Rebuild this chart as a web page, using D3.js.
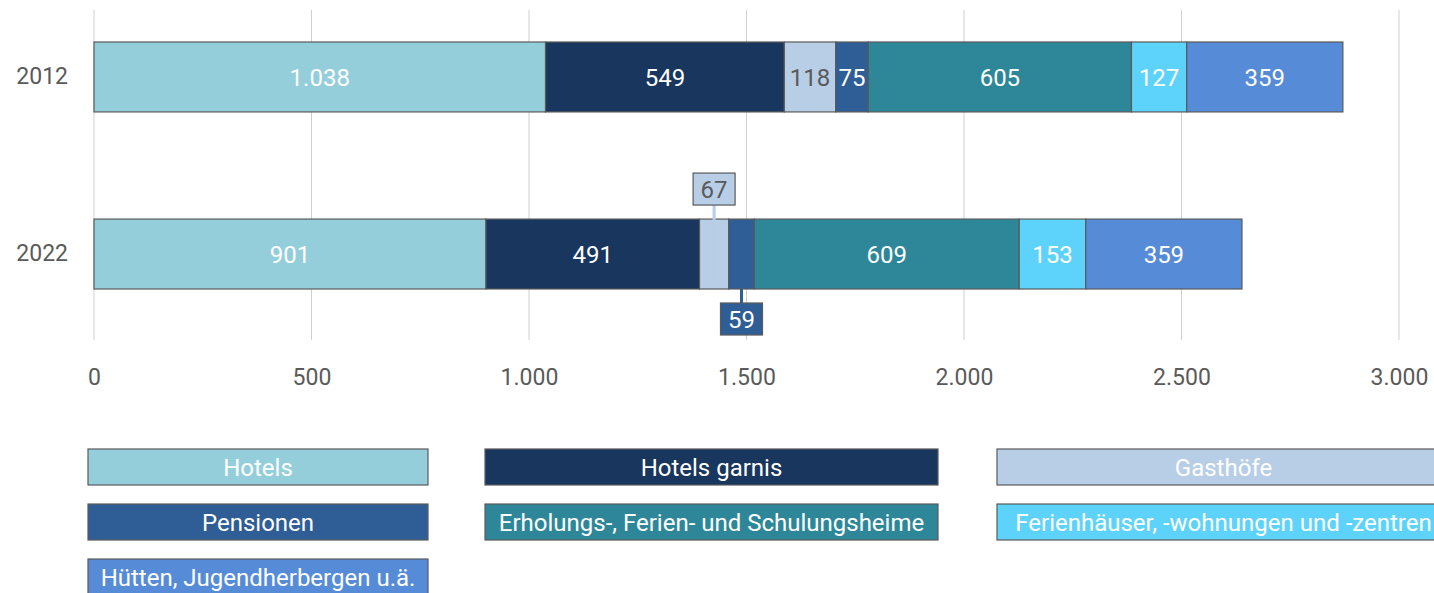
<!DOCTYPE html>
<html>
<head>
<meta charset="utf-8">
<script src="https://cdn.jsdelivr.net/npm/d3@7/dist/d3.min.js"></script>
<style>
  html, body { margin: 0; padding: 0; background: #fff; }
  svg { display: block; font-family: Roboto, "Noto Sans", sans-serif; }
</style>
</head>
<body>
<svg id="chart" width="1434" height="593"></svg>
<script>
// Betriebe nach Betriebsart, 2012 und 2022
const years = ["2012", "2022"];
const categories = [
  "Hotels",
  "Hotels garnis",
  "Gasthöfe",
  "Pensionen",
  "Erholungs-, Ferien- und Schulungsheime",
  "Ferienhäuser, -wohnungen und -zentren",
  "Hütten, Jugendherbergen u.ä."
];
const hotels        = [1038, 901];
const hotelsGarnis  = [549, 491];
const gasthoefe     = [118, 67];
const pensionen     = [75, 59];
const erholung      = [605, 609];
const ferienhaeuser = [127, 153];
const huetten       = [359, 359];
const xTicks = [0, 500, 1000, 1500, 2000, 2500, 3000];

const colors = ["#94cedb", "#18365e", "#b8cde6", "#2f5d95", "#2e8799", "#5dd3fc", "#568bd8"];
const labelColors = ["#fff", "#fff", "#5a5a5a", "#fff", "#fff", "#fff", "#fff"];

const seriesValues = [hotels, hotelsGarnis, gasthoefe, pensionen, erholung, ferienhaeuser, huetten];
const rows = years.map((y, i) => {
  const r = { year: y };
  categories.forEach((c, j) => { r[c] = seriesValues[j][i]; });
  return r;
});

const de = d3.formatLocale({ decimal: ",", thousands: ".", grouping: [3], currency: ["", " €"] });
const fmt = de.format(",d");

const svg = d3.select("#chart");
const x = d3.scaleLinear().domain([0, 3000]).range([94, 1399]);
const y = d3.scaleBand().domain(years).range([42, 289]).paddingInner(0.605).paddingOuter(0);

const stack = d3.stack().keys(categories)(rows);

// grid
svg.append("g").selectAll("line").data(xTicks).join("line")
  .attr("x1", d => x(d)).attr("x2", d => x(d))
  .attr("y1", 10).attr("y2", 340)
  .attr("stroke", "#cfcfcf").attr("stroke-width", 1);

// x axis labels
const xAxis = d3.axisBottom(x).tickValues(xTicks).tickFormat(fmt).tickSize(0).tickPadding(0);
const gx = svg.append("g").attr("transform", "translate(0,369)").call(xAxis);
gx.select(".domain").remove();
gx.selectAll("text").attr("font-size", 23).attr("fill", "#5a5a5a")
  .attr("font-family", "Roboto, sans-serif").attr("dy", "0.71em").attr("y", 0);

// y axis labels
const yAxis = d3.axisLeft(y).tickSize(0).tickPadding(0);
const gy = svg.append("g").attr("transform", "translate(68,0)").call(yAxis);
gy.select(".domain").remove();
gy.selectAll("text").attr("font-size", 23).attr("fill", "#5a5a5a").attr("font-family", "Roboto, sans-serif");

// bars
const layers = svg.append("g").selectAll("g").data(stack).join("g")
  .attr("fill", (d, i) => colors[i]);
layers.selectAll("rect").data(d => d).join("rect")
  .attr("x", d => x(d[0]))
  .attr("y", d => y(d.data.year))
  .attr("width", d => x(d[1]) - x(d[0]))
  .attr("height", y.bandwidth())
  .attr("stroke", "#5a5a5a").attr("stroke-width", 1.2);

// value labels
const labels = svg.append("g");
stack.forEach((layer, i) => {
  layer.forEach(d => {
    const v = d[1] - d[0];
    const cx = x((d[0] + d[1]) / 2);
    const yTop = y(d.data.year);
    const w = x(d[1]) - x(d[0]);
    if (w >= 30) {
      labels.append("text")
        .attr("x", cx).attr("y", yTop + y.bandwidth() / 2)
        .attr("text-anchor", "middle").attr("dy", "0.36em")
        .attr("font-size", 24).attr("fill", labelColors[i])
        .text(fmt(v));
    } else {
      // narrow segment: callout box above or below the bar
      const above = i % 2 === 0;
      const bw = 42, bh = 32;
      const by = above ? yTop - 46 : yTop + y.bandwidth() + 14;
      const lineColor = colors[i];
      labels.append("line")
        .attr("x1", cx).attr("x2", cx)
        .attr("y1", above ? by + bh : yTop + y.bandwidth())
        .attr("y2", above ? yTop + y.bandwidth() - 2 : by)
        .attr("stroke", lineColor).attr("stroke-width", 3);
      labels.append("rect")
        .attr("x", cx - bw / 2).attr("y", by)
        .attr("width", bw).attr("height", bh)
        .attr("fill", colors[i]).attr("stroke", "#5a5a5a").attr("stroke-width", 1.2);
      labels.append("text")
        .attr("x", cx).attr("y", by + bh / 2)
        .attr("text-anchor", "middle").attr("dy", "0.36em")
        .attr("font-size", 24).attr("fill", labelColors[i])
        .text(fmt(v));
    }
  });
});

// legend
const colX = [88, 485, 997];
const colW = [340, 453, 453];
const rowY = [449, 504, 559];
const legend = svg.append("g").selectAll("g").data(categories).join("g")
  .attr("transform", (d, i) => `translate(${colX[i % 3]},${rowY[Math.floor(i / 3)]})`);
legend.append("rect")
  .attr("width", (d, i) => colW[i % 3]).attr("height", 36)
  .attr("fill", (d, i) => colors[i]).attr("stroke", "#5a5a5a").attr("stroke-width", 1.2);
legend.append("text")
  .attr("x", (d, i) => colW[i % 3] / 2).attr("y", 18).attr("dy", "0.36em")
  .attr("text-anchor", "middle").attr("font-size", 24).attr("fill", "#fff")
  .text(d => d);
</script>
</body>
</html>
